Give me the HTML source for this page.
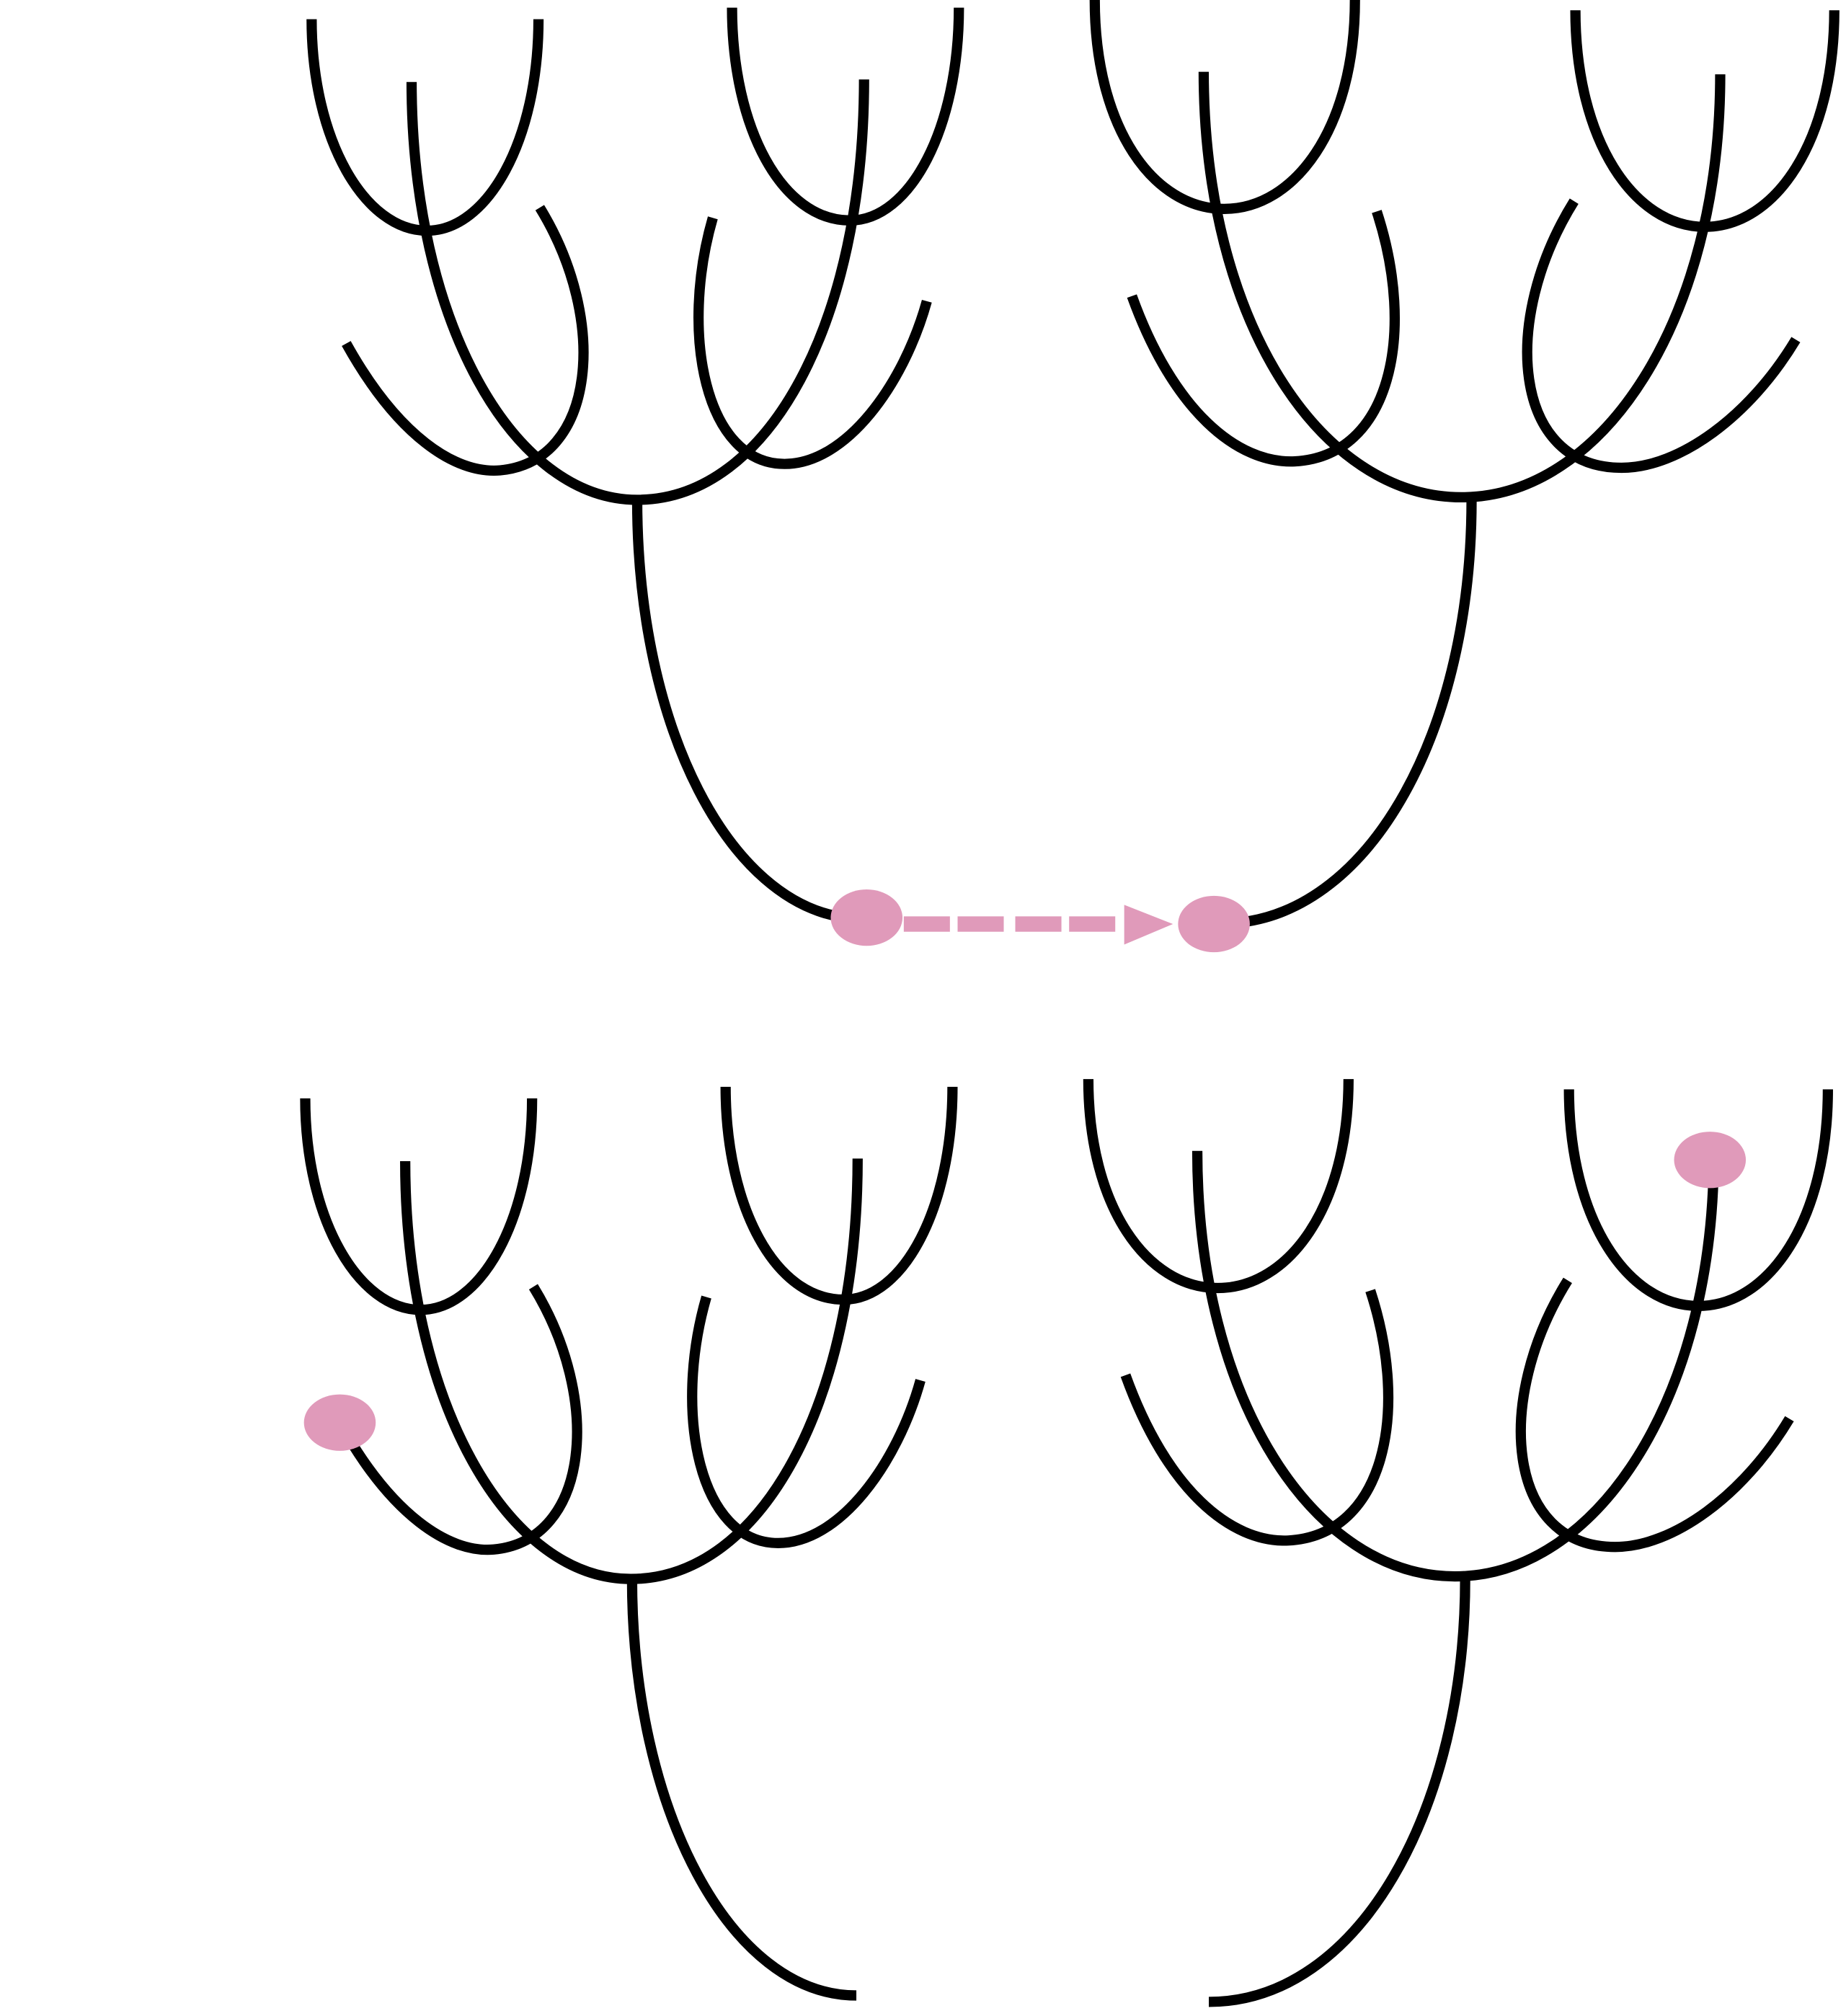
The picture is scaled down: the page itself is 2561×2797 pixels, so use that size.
<!DOCTYPE html>
<html><head><meta charset="utf-8"><style>
html,body{margin:0;padding:0;background:#fff;}
svg{display:block;}
</style></head><body>
<svg width="2561" height="2797" viewBox="0 0 1440 1573" xmlns="http://www.w3.org/2000/svg">
<defs>
<g id="treeL">
  <path d="M321,64 C321,250 400,390 497,390 C600,390 674,250 674,62"/>
  <path d="M243,15 C243,110 285,180 333,180 C380,180 420,110 420,15"/>
  <path d="M571,6 C571,100 610,172 663,172 C710,172 748,100 748,6"/>
  <path d="M270,268 C310,340 355,370 390,367 C465,360 475,250 421,162"/>
  <path d="M556,170 C530,260 550,362 612,362 C660,362 705,300 723,235"/>
</g>
<g id="treeR">
  <path d="M939,56 C939,250 1030,388 1140,388 C1250,388 1342,250 1342,58"/>
  <path d="M854,0 C854,100 900,163 955,163 C1010,163 1057,100 1057,0"/>
  <path d="M1229,8 C1229,110 1275,177 1330,177 C1385,177 1431,110 1431,8"/>
  <path d="M883,231 C915,320 965,362 1010,360 C1085,356 1105,260 1074,165"/>
  <path d="M1228,157 C1170,250 1180,365 1265,365 C1310,365 1365,325 1401,265"/>
</g>
</defs>
<g fill="none" stroke="#000" stroke-width="8">
  <g>
    <use href="#treeL"/>
    <path d="M497,390 C497,570 570,705 660,716"/>
  </g>
  <g>
    <use href="#treeR"/>
    <path d="M1148,390 C1148,570 1070,710 965,720"/>
  </g>
  <g transform="translate(-5,842)">
    <use href="#treeL"/>
    <path d="M498,390 C498,570 575,715 673,715"/>
  </g>
  <g transform="translate(-5,842)">
    <use href="#treeR"/>
    <path d="M1148,390 C1148,570 1065,720 948,720"/>
  </g>
</g>
<g fill="#e09aba">
  <ellipse cx="676" cy="716" rx="28" ry="22"/>
  <ellipse cx="947" cy="721" rx="28" ry="22"/>
  <ellipse cx="265" cy="1110" rx="28" ry="22"/>
  <ellipse cx="1334" cy="905" rx="28" ry="22"/>
  <g>
    <rect x="705" y="715" width="36" height="12"/>
    <rect x="747" y="715" width="36" height="12"/>
    <rect x="792" y="715" width="36" height="12"/>
    <rect x="834" y="715" width="36" height="12"/>
    <polygon points="877,706 915,721 877,737"/>
  </g>
</g>
</svg>
</body></html>
